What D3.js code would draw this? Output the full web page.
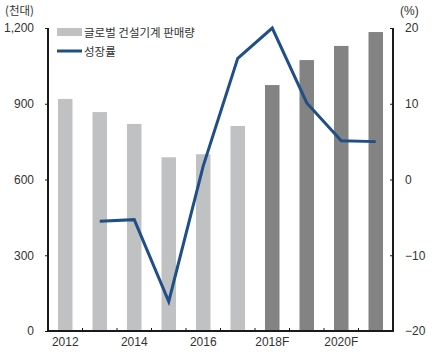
<!DOCTYPE html>
<html>
<head>
<meta charset="utf-8">
<script src="https://cdn.jsdelivr.net/npm/d3@7"></script>
<style>
  body { margin: 0; background: #fff; }
  svg { display: block; font-family: "Liberation Sans", Arial, sans-serif; }
  .kr { font-family: "Noto Sans CJK KR", sans-serif; }
</style>
</head>
<body>
<div id="chart"></div>
<script>
// data
const years = ["2012", "2013", "2014", "2015", "2016", "2017", "2018F", "2019F", "2020F", "2021F"];
const xLabels = ["2012", "2014", "2016", "2018F", "2020F"];
const sales = [919, 867, 820, 688, 700, 812, 974, 1073, 1129, 1184];
const forecast = [false, false, false, false, false, false, true, true, true, true];
const growth = [null, -5.5, -5.3, -16.1, 1.8, 16.0, 20.0, 10.1, 5.1, 5.0];
const leftTicks = [0, 300, 600, 900, 1200];
const rightTicks = [-20, -10, 0, 10, 20];

const width = 432, height = 354;
const margin = { top: 28, right: 39, bottom: 23, left: 48 };

const svg = d3.select("#chart").append("svg")
    .attr("width", width).attr("height", height);

const x = d3.scaleBand().domain(years)
    .range([margin.left, width - margin.right])
    .paddingInner(0.58).paddingOuter(0.29);
const yL = d3.scaleLinear().domain([0, 1200]).range([height - margin.bottom, margin.top]);
const yR = d3.scaleLinear().domain([-20, 20]).range([height - margin.bottom, margin.top]);

// bars
svg.append("g").selectAll("rect").data(years).join("rect")
    .attr("x", d => x(d))
    .attr("width", x.bandwidth())
    .attr("y", (d, i) => yL(sales[i]))
    .attr("height", (d, i) => yL(0) - yL(sales[i]))
    .attr("fill", (d, i) => forecast[i] ? "#838383" : "#c0c1c3");

// growth line
const pts = years.map((d, i) => ({ year: d, v: growth[i] })).filter(d => d.v !== null);
svg.append("path").datum(pts)
    .attr("fill", "none")
    .attr("stroke", "#1f4f86")
    .attr("stroke-width", 3)
    .attr("stroke-linejoin", "miter")
    .attr("d", d3.line().x(d => x(d.year) + x.bandwidth() / 2).y(d => yR(d.v)));

// axes
const axisColor = "#1a1a1a";
const left = svg.append("g").attr("transform", `translate(${margin.left},0)`)
    .call(d3.axisLeft(yL).tickValues(leftTicks).tickSize(3).tickPadding(11)
        .tickFormat(d3.format(",")));
const right = svg.append("g").attr("transform", `translate(${width - margin.right},0)`)
    .call(d3.axisRight(yR).tickValues(rightTicks).tickSize(-3).tickPadding(12)
        .tickFormat(d => d < 0 ? "\u2212" + Math.abs(d) : d));
const bottom = svg.append("g").attr("transform", `translate(0,${height - margin.bottom})`)
    .call(d3.axisBottom(x).tickValues(xLabels).tickSize(0).tickPadding(6));

[left, right, bottom].forEach(g => {
    g.select(".domain").remove();
    g.selectAll("text").attr("fill", "#333").style("font-size", "12px")
        .style("font-family", "'Liberation Sans', Arial, sans-serif");
    g.selectAll("line").attr("stroke", axisColor);
});

// axis lines drawn thick
svg.append("line").attr("x1", margin.left).attr("x2", margin.left)
    .attr("y1", yL(1200)).attr("y2", yL(0) + 1).attr("stroke", axisColor).attr("stroke-width", 2);
svg.append("line").attr("x1", width - margin.right).attr("x2", width - margin.right)
    .attr("y1", yR(20)).attr("y2", yR(-20) + 1).attr("stroke", axisColor).attr("stroke-width", 2);
svg.append("line").attr("x1", margin.left - 1).attr("x2", width - margin.right + 1)
    .attr("y1", yL(0)).attr("y2", yL(0)).attr("stroke", axisColor).attr("stroke-width", 2);

// small ticks between bars on bottom axis
const step = x.step();
svg.append("g").selectAll("line").data(years.slice(1)).join("line")
    .attr("x1", d => x(d) - step * x.paddingInner() / 2)
    .attr("x2", d => x(d) - step * x.paddingInner() / 2)
    .attr("y1", yL(0)).attr("y2", yL(0) - 3)
    .attr("stroke", axisColor);

// unit labels
svg.append("text").attr("class", "kr").attr("x", 5).attr("y", 15)
    .attr("fill", "#333").style("font-size", "11.5px").text("(천대)");
svg.append("text").attr("x", 400).attr("y", 15)
    .attr("fill", "#333").style("font-size", "12px").text("(%)");

// legend
const lg = svg.append("g");
lg.append("rect").attr("x", 57).attr("y", 28).attr("width", 25).attr("height", 8).attr("fill", "#c0c1c3");
lg.append("text").attr("class", "kr").attr("x", 84).attr("y", 37)
    .attr("fill", "#333").style("font-size", "11.5px").text("글로벌 건설기계 판매량");
lg.append("line").attr("x1", 57).attr("x2", 82).attr("y1", 51).attr("y2", 51)
    .attr("stroke", "#1f4f86").attr("stroke-width", 3);
lg.append("text").attr("class", "kr").attr("x", 84).attr("y", 56)
    .attr("fill", "#333").style("font-size", "11.5px").text("성장률");
</script>
</body>
</html>
